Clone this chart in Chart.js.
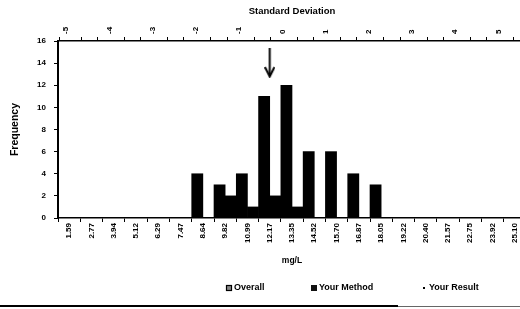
<!DOCTYPE html>
<html>
<head>
<meta charset="utf-8">
<script src="https://cdn.jsdelivr.net/npm/chart.js@4.4.1/dist/chart.umd.min.js"></script>
<style>
  html, body { margin: 0; padding: 0; background: #fff; overflow: hidden; }
  #wrap { position: relative; width: 520px; height: 309px; overflow: hidden; }
  #chart { position: absolute; left: 0; top: 0; }
  /* scanned page edge under the chart */
  .rule { position: absolute; top: 305px; left: 0; width: 398px; height: 2px; background: #000; }
  .rule2 { position: absolute; top: 306px; left: 398px; width: 122px; height: 1px; background: #666; }
</style>
</head>
<body>
<div id="wrap">
  <canvas id="chart" width="526" height="309"></canvas>
  <div class="rule"></div><div class="rule2"></div>
</div>
<script>
// mg/L bins
const categories = ['1.59', '2.77', '3.94', '5.12', '6.29', '7.47', '8.64', '9.82', '10.99', '12.17', '13.35',
                    '14.52', '15.70', '16.87', '18.05', '19.22', '20.40', '21.57', '22.75', '23.92', '25.10'];
const overall    = [0, 0, 0, 0, 0, 0, 4, 3, 4, 11, 12, 6, 6, 4, 3, 0, 0, 0, 0, 0, 0];
const yourMethod = [0, 0, 0, 0, 0, 0, 0, 2, 1, 2, 1, 0, 0, 0, 0, 0, 0, 0, 0, 0, 0];
// your result: the arrow above the 12.17 bin
const yourResult = [{ x: '12.17', y: 14 }];
// top axis, standard deviations (one bin = 0.5 SD)
const sdLabels = [-5, -4, -3, -2, -1, 0, 1, 2, 3, 4, 5];
const sdRange = [-5.25, 5.25];
const freqMax = 16;
const freqStep = 2;

const FONT = '"Liberation Sans", Arial, sans-serif';
Chart.defaults.color = '#000';
Chart.defaults.font.family = FONT;

// down arrow used as the point style of "Your Result"
const arrow = document.createElement('canvas');
arrow.width = 11; arrow.height = 30;
(function() {
  const a = arrow.getContext('2d');
  a.strokeStyle = '#000';
  a.lineWidth = 2;
  a.beginPath(); a.moveTo(5.5, 0); a.lineTo(5.5, 28); a.stroke();
  a.beginPath(); a.moveTo(0.8, 19); a.lineTo(5.5, 28.5); a.lineTo(10.2, 19); a.stroke();
})();

// legend drawn like the Excel one, spread along the bottom
const legendX = [226, 311, 421];
const scanLegend = {
  id: 'scanLegend',
  afterDraw(chart) {
    const ctx = chart.ctx;
    const y = 288;
    ctx.save();
    ctx.font = 'bold 9px ' + FONT;
    ctx.textBaseline = 'middle';
    chart.data.datasets.forEach((ds, i) => {
      const x = legendX[i];
      if (i === 0) {
        ctx.fillStyle = '#888';
        ctx.fillRect(x, y - 3, 6, 6);
        ctx.strokeStyle = '#000';
        ctx.lineWidth = 1.2;
        ctx.strokeRect(x + 0.5, y - 2.5, 5, 5);
      } else if (i === 1) {
        ctx.fillStyle = '#111';
        ctx.fillRect(x, y - 3, 6, 6);
      } else {
        ctx.fillStyle = '#000';
        ctx.fillRect(x + 2, y - 1, 2, 2);
      }
      ctx.fillStyle = '#000';
      ctx.fillText(ds.label, x + 8, y);
    });
    ctx.restore();
  }
};

new Chart(document.getElementById('chart'), {
  type: 'bar',
  data: {
    labels: categories,
    datasets: [
      { label: 'Overall', data: overall, backgroundColor: '#000', barPercentage: 1, categoryPercentage: 1 },
      { label: 'Your Method', data: yourMethod, backgroundColor: '#000', barPercentage: 1, categoryPercentage: 1 },
      { label: 'Your Result', type: 'scatter', data: yourResult,
        pointStyle: arrow, pointRadius: 10, backgroundColor: '#000', borderColor: '#000' }
    ]
  },
  options: {
    responsive: false,
    devicePixelRatio: 1,
    animation: false,
    layout: { autoPadding: false, padding: { left: 0, right: 0, top: 0, bottom: 43 } },
    plugins: {
      legend: { display: false },
      tooltip: { enabled: false }
    },
    scales: {
      x: {
        position: 'bottom',
        grid: { display: true, drawOnChartArea: false, offset: true, tickLength: 4, tickColor: '#000', lineWidth: 1 },
        border: { color: '#000', width: 1.5 },
        ticks: { font: { size: 8, weight: 'bold' }, minRotation: 90, maxRotation: 90, autoSkip: false, padding: 1 },
        title: { display: true, text: 'mg/L', font: { size: 8.5, weight: 'bold' }, padding: { top: 0, bottom: 0 } },
        afterFit(s) { s.height = 48; s.paddingLeft = 0; s.paddingRight = 0; }
      },
      x2: {
        type: 'linear',
        position: 'top',
        min: sdRange[0],
        max: sdRange[1],
        afterBuildTicks(s) {
          // tick marks at the bin edges, labels at whole SDs
          const vals = sdLabels.slice();
          for (let v = sdRange[0]; v <= sdRange[1] + 1e-9; v += 0.5) vals.push(v);
          vals.sort((a, b) => a - b);
          s.ticks = vals.map(v => ({ value: v }));
        },
        grid: {
          display: true, drawOnChartArea: false, tickLength: 4, lineWidth: 1,
          tickColor: c => (c.tick && Number.isInteger(c.tick.value)) ? 'rgba(0,0,0,0)' : '#000'
        },
        border: { color: '#000', width: 1.5 },
        ticks: {
          font: { size: 8, weight: 'bold' }, minRotation: 90, maxRotation: 90, autoSkip: false, padding: 3,
          callback: v => Number.isInteger(v) ? String(v) : ''
        },
        title: { display: true, text: 'Standard Deviation', font: { size: 9.5, weight: 'bold' }, padding: { top: 6, bottom: 0 } },
        afterFit(s) { s.height = 41; s.paddingLeft = 0; s.paddingRight = 0; }
      },
      y: {
        min: 0,
        max: freqMax,
        grid: { display: true, drawOnChartArea: false, tickLength: 4, tickColor: '#000' },
        border: { color: '#000', width: 2 },
        ticks: { stepSize: freqStep, font: { size: 8, weight: 'bold' }, padding: 8 },
        title: { display: true, text: 'Frequency', font: { size: 10.5, weight: 'bold' }, padding: { top: 9, bottom: 0 } },
        afterFit(s) { s.width = 58; }
      }
    }
  },
  plugins: [scanLegend]
});
</script>
</body>
</html>
